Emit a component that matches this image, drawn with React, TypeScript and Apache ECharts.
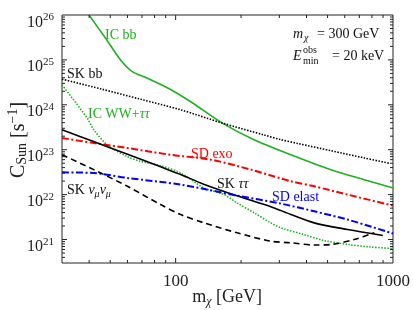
import React, { useEffect, useRef } from 'react';
import * as echarts from 'echarts';

const X_MIN = 30;
const X_MAX = 1000;
const Y_MIN = 3e20;
const Y_MAX = 1e26;
const X_TICK_LABELS = [100, 1000];
const Y_TICK_EXPONENTS = [21, 22, 23, 24, 25, 26];
const X_MAJOR_TICKS = [100];
const X_MINOR_TICKS = [40, 50, 60, 70, 80, 90, 200, 300, 400, 500, 600, 700, 800, 900];

// IC bb (solid green)
const IC_BB_M = [39.9, 47.6, 55.8, 63.2, 74.1, 91.6, 117.3, 164, 229.5, 339, 518, 737, 1000];
const IC_BB_C = [1.0e26, 3.04e25, 1.0e25, 5.5e24, 3.92e24, 2.39e24, 1.17e24, 3.92e23, 1.67e23, 7.74e22, 3.6e22, 2.15e22, 1.41e22];
// SK bb (dotted black)
const SK_BB_M = [30, 45.1, 69, 105.4, 164, 255, 305, 364, 518, 737, 958];
const SK_BB_C = [3.73e24, 2.27e24, 1.33e24, 7.74e23, 3.92e23, 2.13e23, 1.67e23, 1.38e23, 9.5e22, 6.55e22, 5.0e22];
// IC WW+tautau (dotted green)
const IC_WW_M = [30, 39.2, 42, 48.4, 60, 69, 85.3, 105.4, 135, 167, 192, 230, 274, 305, 389, 481, 621, 792, 1000];
const IC_WW_C = [2.78e24, 5.06e23, 2.78e23, 1.29e23, 6.99e22, 5.5e22, 4.41e22, 3.03e22, 1.41e22, 1.0e22, 6.5e21, 3.92e21, 2.35e21, 1.82e21, 1.29e21, 9.5e20, 7.74e20, 6.81e20, 6.3e20];
// SD exo (red dash-dot)
const SD_EXO_M = [30, 42, 60, 94.8, 145, 222, 339, 434, 618, 1000];
const SD_EXO_C = [1.82e23, 1.41e23, 1.09e23, 7.7e22, 6.0e22, 3.6e22, 1.98e22, 1.53e22, 1.0e22, 5.7e21];
// SK tautau (solid black)
const SK_TT_M = [30, 41.9, 60.1, 85.3, 105.4, 134.6, 193, 274, 339, 434, 618, 898];
const SK_TT_C = [2.78e23, 1.52e23, 7.9e22, 4.15e22, 2.81e22, 1.71e22, 9.3e21, 5.4e21, 3.6e21, 2.35e21, 1.67e21, 1.23e21];
// SD elast (blue dash-dot)
const SD_EL_M = [30, 42, 60, 105.4, 192, 305, 434, 618, 1000];
const SD_EL_C = [3.13e22, 3.03e22, 2.35e22, 1.67e22, 9.5e21, 6.3e21, 4.25e21, 2.78e21, 1.36e21];
// SK numu numu (dashed black)
const SK_NN_M = [30, 42, 60, 85.3, 105.4, 135, 192, 274, 339, 434, 518, 663, 820];
const SK_NN_C = [7.74e22, 3.6e22, 1.53e22, 6.0e21, 3.6e21, 2.35e21, 1.41e21, 9.17e20, 8.45e20, 7.55e20, 7.74e20, 1.0e21, 1.41e21];

const FONT = "'Liberation Serif', 'DejaVu Serif', serif";
const GREEN = '#1fb01f';
const RED = '#ff0000';
const BLUE = '#0000ff';
const BLACK = '#000000';
const DASHDOT = [7, 2.5, 2, 2.5];

const zip = (m: number[], c: number[]) => m.map((v, i) => [v, c[i]]);

function lineSeries(name: string, m: number[], c: number[], color: string, type: any, width: number) {
  return {
    name,
    type: 'line',
    data: zip(m, c),
    showSymbol: false,
    smooth: 0.3,
    clip: true,
    lineStyle: { color, width, type },
    silent: true,
    z: 3,
  };
}

function buildYTicks() {
  const major: number[] = [];
  const minor: number[] = [];
  for (let e = 20; e <= 25; e++) {
    for (let k = 1; k <= 9; k++) {
      const v = k * Math.pow(10, e);
      if (v <= Y_MIN || v >= Y_MAX) continue;
      if (k === 1) major.push(v);
      else minor.push(v);
    }
  }
  return { major, minor };
}

const baseRich = {
  n: { fontSize: 14, fontFamily: FONT },
  i: { fontSize: 14, fontFamily: FONT, fontStyle: 'italic' },
  s: { fontSize: 10, fontFamily: FONT, fontStyle: 'italic', padding: [8, 0, 0, 0] },
};

export default function App() {
  const ref = useRef<HTMLDivElement>(null);
  useEffect(() => {
    if (!ref.current) return;
    const chart = echarts.init(ref.current, undefined, { renderer: 'svg' });
    const yt = buildYTicks();
    const xTickData = [
      ...X_MAJOR_TICKS.map((v) => [v, Y_MIN, 1]),
      ...X_MINOR_TICKS.map((v) => [v, Y_MIN, 0]),
    ];
    const yTickData = [
      ...yt.major.map((v) => [X_MIN, v, 1]),
      ...yt.minor.map((v) => [X_MIN, v, 0]),
    ];
    const tickStyle = { stroke: '#222', lineWidth: 1 };
    const option: any = {
      animation: false,
      grid: { left: 62, top: 15, width: 331, height: 248, show: true, borderColor: '#222', borderWidth: 1 },
      xAxis: {
        type: 'log',
        logBase: 10,
        min: X_MIN,
        max: X_MAX,
        axisLine: { show: false },
        axisTick: { show: false },
        splitLine: { show: false },
        axisLabel: {
          showMinLabel: true,
          showMaxLabel: true,
          margin: 9,
          fontSize: 17,
          fontFamily: FONT,
          color: '#222',
          formatter: (v: number) => {
            const r = Math.round(v);
            return X_TICK_LABELS.includes(r) && Math.abs(v - r) < 1e-6 * r ? String(r) : '';
          },
        },
      },
      yAxis: {
        type: 'log',
        logBase: 10,
        min: Y_MIN,
        max: Y_MAX,
        axisLine: { show: false },
        axisTick: { show: false },
        splitLine: { show: false },
        axisLabel: {
          showMinLabel: true,
          showMaxLabel: true,
          margin: 8,
          color: '#222',
          formatter: (v: number) => {
            const l = Math.log10(v);
            const e = Math.round(l);
            if (Math.abs(l - e) > 1e-6 || !Y_TICK_EXPONENTS.includes(e)) return '';
            return `{b|10}{p|${e}}`;
          },
          rich: {
            b: { fontSize: 16, fontFamily: FONT, color: '#222', padding: [12, 0, 0, 0] },
            p: { fontSize: 11, fontFamily: FONT, color: '#222', padding: [9, 0, 7, 0] },
          },
        },
      },
      series: [
        {
          type: 'custom',
          silent: true,
          z: 5,
          encode: { x: 0, y: 1 },
          data: xTickData,
          renderItem: (params: any, api: any) => {
            const v = api.value(0);
            const len = api.value(2) ? 5 : 3;
            const b = api.coord([v, Y_MIN]);
            const t = api.coord([v, Y_MAX]);
            return {
              type: 'group',
              children: [
                { type: 'line', shape: { x1: b[0], y1: b[1], x2: b[0], y2: b[1] - len }, style: tickStyle },
                { type: 'line', shape: { x1: t[0], y1: t[1], x2: t[0], y2: t[1] + len }, style: tickStyle },
              ],
            };
          },
        },
        {
          type: 'custom',
          silent: true,
          z: 5,
          encode: { x: 0, y: 1 },
          data: yTickData,
          renderItem: (params: any, api: any) => {
            const v = api.value(1);
            const len = api.value(2) ? 5 : 3;
            const l = api.coord([X_MIN, v]);
            const r = api.coord([X_MAX, v]);
            return {
              type: 'group',
              children: [
                { type: 'line', shape: { x1: l[0], y1: l[1], x2: l[0] + len, y2: l[1] }, style: tickStyle },
                { type: 'line', shape: { x1: r[0], y1: r[1], x2: r[0] - len, y2: r[1] }, style: tickStyle },
              ],
            };
          },
        },
        lineSeries('IC bb', IC_BB_M, IC_BB_C, GREEN, 'solid', 1.6),
        lineSeries('SK bb', SK_BB_M, SK_BB_C, BLACK, [1.5, 1.5], 1.6),
        lineSeries('IC WW+tautau', IC_WW_M, IC_WW_C, GREEN, [1.5, 1.5], 1.6),
        lineSeries('SD exo', SD_EXO_M, SD_EXO_C, RED, DASHDOT, 2),
        lineSeries('SK tautau', SK_TT_M, SK_TT_C, BLACK, 'solid', 1.6),
        lineSeries('SD elast', SD_EL_M, SD_EL_C, BLUE, DASHDOT, 2),
        lineSeries('SK numu', SK_NN_M, SK_NN_C, BLACK, [6, 4], 1.6),
      ],
      graphic: [
        { type: 'text', x: 105, y: 34, style: { text: 'IC bb', fill: GREEN, font: `14px ${FONT}`, verticalAlign: 'middle' } },
        { type: 'text', x: 67, y: 73, style: { text: 'SK bb', fill: '#111', font: `14px ${FONT}`, verticalAlign: 'middle' } },
        {
          type: 'text', x: 88, y: 113,
          style: { text: '{n|IC WW+}{i|ττ}', fill: GREEN, verticalAlign: 'middle', rich: { n: { ...baseRich.n, fill: GREEN }, i: { ...baseRich.i, fill: GREEN } } },
        },
        { type: 'text', x: 191, y: 153, style: { text: 'SD exo', fill: RED, font: `14px ${FONT}`, verticalAlign: 'middle' } },
        {
          type: 'text', x: 217, y: 183,
          style: { text: '{n|SK }{i|ττ}', fill: '#111', verticalAlign: 'middle', rich: baseRich },
        },
        { type: 'text', x: 272, y: 196, style: { text: 'SD elast', fill: BLUE, font: `14px ${FONT}`, verticalAlign: 'middle' } },
        {
          type: 'text', x: 67, y: 189,
          style: { text: '{n|SK }{i|ν}{s|μ}{i|ν}{s|μ}', fill: '#111', verticalAlign: 'middle', rich: baseRich },
        },
        // m_chi = 300 GeV
        { type: 'text', x: 293, y: 33, style: { text: 'm', fill: '#111', font: `italic 14px ${FONT}`, verticalAlign: 'middle' } },
        { type: 'text', x: 304, y: 37, style: { text: 'χ', fill: '#111', font: `italic 10px ${FONT}`, verticalAlign: 'middle' } },
        { type: 'text', x: 317, y: 33, style: { text: '= 300 GeV', fill: '#111', font: `14px ${FONT}`, verticalAlign: 'middle' } },
        // E_min^obs = 20 keV
        { type: 'text', x: 293, y: 55, style: { text: 'E', fill: '#111', font: `italic 14px ${FONT}`, verticalAlign: 'middle' } },
        { type: 'text', x: 303, y: 49, style: { text: 'obs', fill: '#111', font: `10px ${FONT}`, verticalAlign: 'middle' } },
        { type: 'text', x: 303, y: 60, style: { text: 'min', fill: '#111', font: `10px ${FONT}`, verticalAlign: 'middle' } },
        { type: 'text', x: 332, y: 55, style: { text: '= 20 keV', fill: '#111', font: `14px ${FONT}`, verticalAlign: 'middle' } },
        // axis titles
        {
          type: 'text', x: 227, y: 296,
          style: {
            text: '{n|m}{s|χ}{n| [GeV]}', align: 'center', verticalAlign: 'middle', fill: '#222',
            rich: {
              n: { fontSize: 18, fontFamily: FONT, fill: '#222' },
              s: { fontSize: 12, fontFamily: FONT, fontStyle: 'italic', fill: '#222', padding: [9, 0, 0, 0] },
            },
          },
        },
        {
          type: 'text', x: 17, y: 140, rotation: Math.PI / 2,
          style: {
            text: '{n|C}{s|Sun}{n| [s}{p|−1}{n|]}', align: 'center', verticalAlign: 'middle', fill: '#222',
            rich: {
              n: { fontSize: 20, fontFamily: FONT, fill: '#222' },
              s: { fontSize: 14, fontFamily: FONT, fill: '#222', padding: [9, 0, 0, 0] },
              p: { fontSize: 14, fontFamily: FONT, fill: '#222', padding: [0, 0, 9, 0] },
            },
          },
        },
      ],
    };
    chart.setOption(option);
    return () => chart.dispose();
  }, []);
  return <div ref={ref} style={{ position: 'fixed', left: 0, top: 0, width: 413, height: 310 }} />;
}
